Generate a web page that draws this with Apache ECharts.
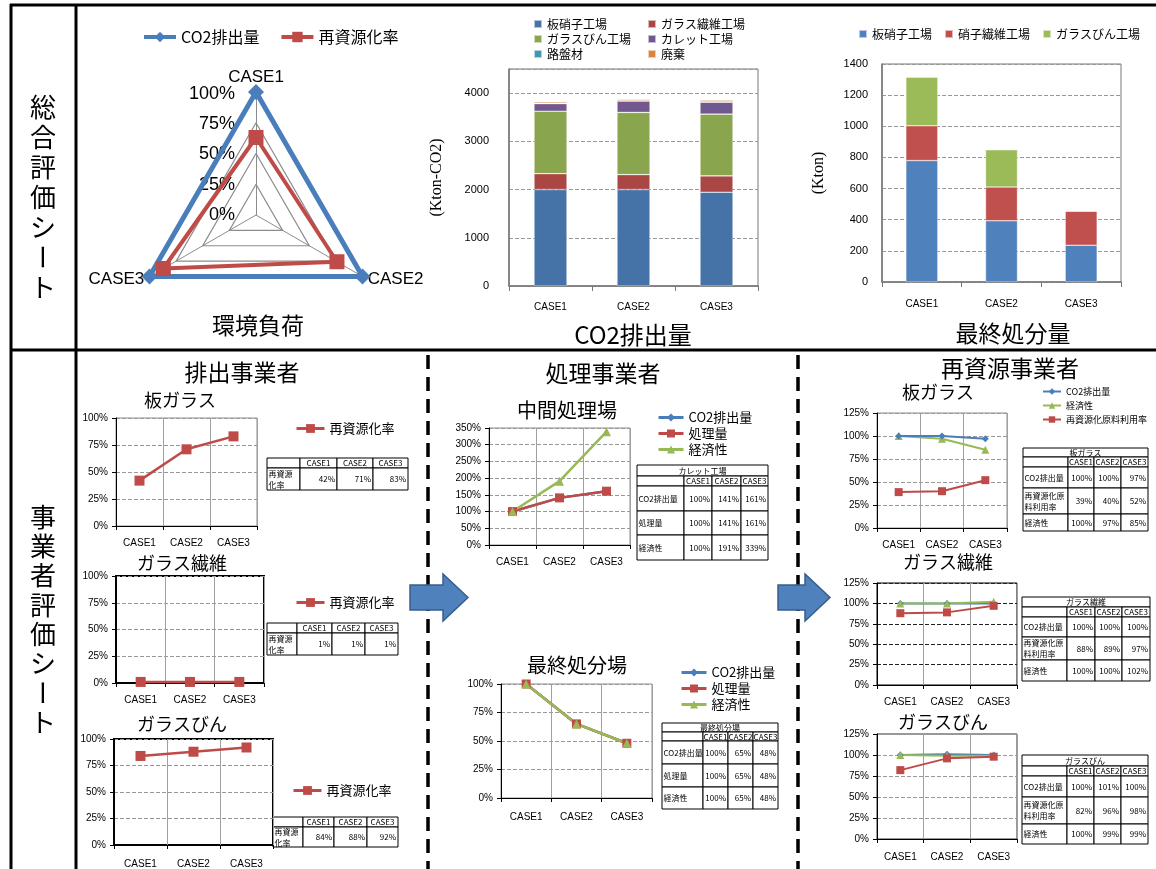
<!DOCTYPE html>
<html>
<head>
<meta charset="utf-8">
<script src="https://cdn.jsdelivr.net/npm/echarts@6/dist/echarts.min.js"></script>
<style>
html,body{margin:0;padding:0;background:#fff}
#main{width:1156px;height:869px}
</style>
</head>
<body>
<div id="main"></div>
<script>
// 共通カテゴリ
const cases = ['CASE1', 'CASE2', 'CASE3'];

// 総合評価：環境負荷（レーダー）
const radarCO2 = [100, 100, 100];
const radarRecycle = [63, 76, 87];

// 総合評価：CO2排出量（Kton-CO2）
const co2Sheet = [2000, 2000, 1945];
const co2Fiber = [330, 310, 339];
const co2Bottle = [1294, 1290, 1280];
const co2Cullet = [159, 235, 249];
const co2Road = [5, 5, 5];
const co2Waste = [30, 28, 35];

// 総合評価：最終処分量（Kton）
const dispSheet = [780, 393, 236];
const dispFiber = [223, 217, 219];
const dispBottle = [312, 239, 0];

// 排出事業者：再資源化率（%）
const emSheet = [42, 71, 83];
const emFiber = [1, 1, 1];
const emBottle = [84, 88, 92];

// 処理事業者（%）
const midCO2 = [100, 141, 161];
const midAmount = [100, 141, 161];
const midEcon = [100, 191, 339];
const finCO2 = [100, 65, 48];
const finAmount = [100, 65, 48];
const finEcon = [100, 65, 48];

// 再資源事業者（%）
const reSheetCO2 = [100, 100, 97];
const reSheetRate = [39, 40, 52];
const reSheetEcon = [100, 97, 85];
const reFiberCO2 = [100, 100, 100];
const reFiberRate = [88, 89, 97];
const reFiberEcon = [100, 100, 102];
const reBottleCO2 = [100, 101, 100];
const reBottleRate = [82, 96, 98];
const reBottleEcon = [100, 99, 99];

const BLUE = '#4A7EBB', RED = '#BE4B48', GREEN = '#98B954';
const FONT = "'Liberation Sans','Noto Sans CJK JP',sans-serif";
const JP = "'Noto Sans CJK JP',sans-serif";

const grids = [], xAxes = [], yAxes = [], series = [], legends = [], graphics = [];

// 折れ線グラフ（％軸）を1つ追加
function addLineChart(c) {
    const gi = grids.length;
    grids.push({ left: c.box[0], top: c.box[1], width: c.box[2] - c.box[0], height: c.box[3] - c.box[1],
        show: true, borderColor: c.border, borderWidth: c.bw });
    xAxes.push({ gridIndex: gi, type: 'category', data: cases, boundaryGap: true,
        axisLine: { lineStyle: { color: '#000' } },
        axisTick: { show: true, length: 4, lineStyle: { color: '#000' } },
        axisLabel: { color: '#000', fontSize: 10, margin: c.xm || 12, fontFamily: FONT },
        splitLine: { show: true, lineStyle: { color: '#a0a0a0' } } });
    yAxes.push({ gridIndex: gi, type: 'value', min: 0, max: c.max, interval: c.step,
        axisLine: { show: true, lineStyle: { color: '#000' } },
        axisTick: { show: true, length: 4, lineStyle: { color: '#000' } },
        axisLabel: { color: '#000', fontSize: 10, margin: 8, formatter: '{value}%', fontFamily: FONT },
        splitLine: { show: true, lineStyle: { color: c.split || '#999', type: 'dashed' } } });
    c.lines.forEach(l => series.push({ type: 'line', name: l[0], data: l[1], xAxisIndex: gi, yAxisIndex: gi,
        symbol: l[3], symbolSize: l[4], itemStyle: { color: l[2] },
        lineStyle: { color: l[2], width: c.lw || 2.5 } }));
}

// 表（グラフィック要素で描く）
function cell(x, y, w, h, text, align, fs, wrapW) {
    graphics.push({ type: 'rect', shape: { x: x, y: y, width: w, height: h },
        style: { fill: '#fff', stroke: '#000', lineWidth: 1 } });
    if (text === '') return;
    const tx = align === 'left' ? x + 1.5 : (align === 'right' ? x + w - 2 : x + w / 2);
    const st = { text: text, fill: '#000', font: fs + 'px ' + JP, align: align, verticalAlign: 'middle', lineHeight: fs + 3 };
    if (align === 'left') { st.width = wrapW || (w + 2); st.overflow = 'break'; }
    graphics.push({ type: 'text', x: tx, y: y + h / 2, style: st });
}
function table(cols, rows, title, body, wrapW) {
    const fs = 8;
    let r = 0;
    if (title) {
        cell(cols[0], rows[0], cols[cols.length - 1] - cols[0], rows[1] - rows[0], title, 'center', fs);
        r = 1;
    }
    for (let c = 0; c < cols.length - 1; c++) {
        cell(cols[c], rows[r], cols[c + 1] - cols[c], rows[r + 1] - rows[r], c === 0 ? '' : cases[c - 1], 'center', fs);
    }
    r++;
    body.forEach((row, k) => {
        for (let c = 0; c < cols.length - 1; c++) {
            const t = c === 0 ? row[0] : row[1][c - 1] + '%';
            cell(cols[c], rows[r + k], cols[c + 1] - cols[c], rows[r + k + 1] - rows[r + k], t, c === 0 ? 'left' : 'right', fs, wrapW);
        }
    });
}
function text(x, y, t, size, rot) {
    graphics.push({ type: 'text', x: x, y: y, rotation: rot || 0,
        style: { text: t, fill: '#000', font: size + 'px ' + JP, align: 'center', verticalAlign: 'middle' } });
}

// ---- 排出事業者 ----
addLineChart({ box: [116, 418, 257, 526], max: 100, step: 25, border: '#8c8c8c', bw: 1,
    lines: [['再資源化率', emSheet, RED, 'rect', 10]] });
addLineChart({ box: [116, 576, 264, 683], max: 100, step: 25, border: '#000', bw: 2,
    lines: [['再資源化率', emFiber, RED, 'rect', 10]] });
addLineChart({ box: [114, 739, 273, 845], max: 100, step: 25, border: '#000', bw: 2, xm: 14,
    lines: [['再資源化率', emBottle, RED, 'rect', 10]] });
// ---- 処理事業者 ----
addLineChart({ box: [489, 428, 630, 545], max: 350, step: 50, border: '#8c8c8c', bw: 1,
    lines: [['CO2排出量', midCO2, BLUE, 'diamond', 7], ['処理量', midAmount, RED, 'rect', 9], ['経済性', midEcon, GREEN, 'triangle', 9]] });
addLineChart({ box: [501, 684, 652, 798], max: 100, step: 25, border: '#8c8c8c', bw: 1, xm: 14,
    lines: [['CO2排出量', finCO2, BLUE, 'diamond', 7], ['処理量', finAmount, RED, 'rect', 9], ['経済性', finEcon, GREEN, 'triangle', 9]] });
// ---- 再資源事業者 ----
addLineChart({ box: [877, 413, 1007, 528], max: 125, step: 25, border: '#8c8c8c', bw: 1, lw: 2,
    lines: [['経済性', reSheetEcon, GREEN, 'triangle', 8], ['CO2排出量', reSheetCO2, BLUE, 'diamond', 7], ['再資源化原料利用率', reSheetRate, RED, 'rect', 8]] });
addLineChart({ box: [877, 583, 1017, 685], max: 125, step: 25, border: '#000', bw: 1, lw: 2, split: '#222',
    lines: [['CO2排出量', reFiberCO2, BLUE, 'diamond', 7], ['経済性', reFiberEcon, GREEN, 'triangle', 8], ['再資源化原料利用率', reFiberRate, RED, 'rect', 8]] });
addLineChart({ box: [877, 734, 1017, 839], max: 125, step: 25, border: '#333', bw: 1, lw: 2, xm: 13,
    lines: [['CO2排出量', reBottleCO2, BLUE, 'diamond', 7], ['経済性', reBottleEcon, GREEN, 'triangle', 8], ['再資源化原料利用率', reBottleRate, RED, 'rect', 8]] });

// ---- 積み上げ棒グラフ ----
function addBarChart(c) {
    const gi = grids.length;
    grids.push({ left: c.box[0], top: c.box[1], width: c.box[2] - c.box[0], height: c.box[3] - c.box[1],
        show: true, borderColor: '#777', borderWidth: 1 });
    xAxes.push({ gridIndex: gi, type: 'category', data: cases,
        axisLine: { lineStyle: { color: '#777', width: 1.5 } },
        axisTick: { show: true, length: 5, lineStyle: { color: '#777' } },
        axisLabel: { color: '#000', fontSize: 10, margin: c.xm, fontFamily: FONT } });
    yAxes.push({ gridIndex: gi, type: 'value', min: 0, max: c.max, interval: c.step,
        name: c.unit, nameLocation: 'middle', nameRotate: 90, nameGap: c.nameGap,
        nameTextStyle: { fontFamily: "'Liberation Serif',serif", fontSize: 16, color: '#000' },
        axisLine: { show: true, lineStyle: { color: '#777', width: 1.5 } },
        axisTick: { show: false },
        axisLabel: { color: '#000', fontSize: 11, margin: c.ym, showMaxLabel: c.showMax, fontFamily: FONT,
            formatter: v => String(v) },
        splitLine: { show: true, lineStyle: { color: '#999', type: 'dashed' } } });
    c.stacks.forEach(s => series.push({ type: 'bar', name: s[0], data: s[1], stack: 'st' + gi,
        xAxisIndex: gi, yAxisIndex: gi, barWidth: c.barWidth,
        itemStyle: { color: s[2], borderColor: 'rgba(255,255,255,0.6)', borderWidth: 0.6 } }));
}
addBarChart({ box: [509, 69, 758, 286], max: 4500, step: 1000, unit: '(Kton-CO2)', nameGap: 64, ym: 20, xm: 16,
    showMax: false, barWidth: 33,
    stacks: [['板硝子工場', co2Sheet, '#4572A7'], ['ガラス繊維工場', co2Fiber, '#AA4643'], ['ガラスびん工場', co2Bottle, '#89A54E'],
        ['カレット工場', co2Cullet, '#71588F'], ['路盤材', co2Road, '#4198AF'], ['廃棄', co2Waste, '#DB843D']] });
addBarChart({ box: [882, 64, 1121, 282], max: 1400, step: 200, unit: '(Kton)', nameGap: 55, ym: 14, xm: 17,
    showMax: true, barWidth: 32,
    stacks: [['板硝子工場', dispSheet, '#4F81BD'], ['硝子繊維工場', dispFiber, '#C0504D'], ['ガラスびん工場', dispBottle, '#9BBB59']] });

// レーダーの目盛ラベル（CASE1軸に沿って）
(function () {
    const gi = grids.length;
    grids.push({ left: 256, top: 94, width: 1, height: 121, show: false });
    xAxes.push({ gridIndex: gi, type: 'value', show: false });
    yAxes.push({ gridIndex: gi, type: 'value', min: 0, max: 100, interval: 25,
        axisLine: { show: false }, axisTick: { show: false }, splitLine: { show: false },
        axisLabel: { color: '#000', fontSize: 18, margin: 21, formatter: '{value}%', fontFamily: FONT } });
})();

// レーダー（Excel と同じ時計回りになるよう並べ替え）
const radarOrder = [0, 2, 1];
series.push({ type: 'radar', radarIndex: 0, data: [
    { name: 'CO2排出量', value: radarOrder.map(i => radarCO2[i]), symbol: 'diamond', symbolSize: 16,
        lineStyle: { width: 5, color: BLUE }, itemStyle: { color: BLUE } },
    { name: '再資源化率', value: radarOrder.map(i => radarRecycle[i]), symbol: 'rect', symbolSize: 15,
        lineStyle: { width: 4, color: RED }, itemStyle: { color: RED } }
] });

// 凡例
const lg = (o) => legends.push(Object.assign({ selectedMode: false, textStyle: { fontFamily: JP, color: '#000' } }, o));
lg({ left: 137, top: 24, itemWidth: 32, itemHeight: 13, itemGap: 20, lineStyle: { width: 4 },
    textStyle: { fontFamily: JP, fontSize: 16, color: '#000' }, data: ['CO2排出量', '再資源化率'] });
lg({ left: 528, top: 13, orient: 'vertical', icon: 'rect', itemWidth: 8, itemHeight: 8, itemGap: 3,
    textStyle: { fontFamily: JP, fontSize: 12, color: '#000' }, data: ['板硝子工場', 'ガラスびん工場', '路盤材'] });
lg({ left: 642, top: 13, orient: 'vertical', icon: 'rect', itemWidth: 8, itemHeight: 8, itemGap: 3,
    textStyle: { fontFamily: JP, fontSize: 12, color: '#000' }, data: ['ガラス繊維工場', 'カレット工場', '廃棄'] });
lg({ left: 853, top: 23, icon: 'rect', itemWidth: 8, itemHeight: 8, itemGap: 12,
    textStyle: { fontFamily: JP, fontSize: 12, color: '#000' },
    data: [{ name: '板硝子工場', itemStyle: { color: '#4F81BD' } }, { name: '硝子繊維工場' }, { name: 'ガラスびん工場', itemStyle: { color: '#9BBB59' } }] });
[[290, 417], [290, 591], [287, 779]].forEach(p => lg({ left: p[0], top: p[1], itemWidth: 28, itemHeight: 11, lineStyle: { width: 3 },
    textStyle: { fontFamily: JP, fontSize: 13, color: '#000' }, data: ['再資源化率'] }));
[[652, 406], [675, 661]].forEach(p => lg({ left: p[0], top: p[1], orient: 'vertical', itemWidth: 25, itemHeight: 10, itemGap: 3,
    lineStyle: { width: 3 }, textStyle: { fontFamily: JP, fontSize: 13, color: '#000' }, data: ['CO2排出量', '処理量', '経済性'] }));
lg({ left: 1037, top: 382, orient: 'vertical', itemWidth: 18, itemHeight: 8, itemGap: 5, lineStyle: { width: 2 },
    textStyle: { fontFamily: JP, fontSize: 9, color: '#000' }, data: ['CO2排出量', '経済性', '再資源化原料利用率'] });

// 表
table([267, 300, 337, 373, 408], [458, 468, 490], null, [['再資源化率', emSheet]], 26);
table([267, 297, 332, 365, 398], [623, 633, 655], null, [['再資源化率', emFiber]], 26);
table([273, 303, 334, 367, 398], [817, 827, 847], null, [['再資源化率', emBottle]], 26);
table([637, 684, 712, 741, 768], [465, 476, 486, 511, 535, 560], 'カレット工場',
    [['CO2排出量', midCO2], ['処理量', midAmount], ['経済性', midEcon]]);
table([662, 703, 728, 753, 778], [723, 732, 741, 764, 787, 809], '最終処分場',
    [['CO2排出量', finCO2], ['処理量', finAmount], ['経済性', finEcon]], 48);
table([1023, 1068, 1094, 1121, 1148], [448, 457, 467, 488, 514, 531], '板ガラス',
    [['CO2排出量', reSheetCO2], ['再資源化原料利用率', reSheetRate], ['経済性', reSheetEcon]]);
table([1022, 1067, 1095, 1122, 1150], [597, 607, 617, 637, 660, 681], 'ガラス繊維',
    [['CO2排出量', reFiberCO2], ['再資源化原料利用率', reFiberRate], ['経済性', reFiberEcon]]);
table([1022, 1067, 1094, 1121, 1148], [755, 766, 776, 797, 824, 844], 'ガラスびん',
    [['CO2排出量', reBottleCO2], ['再資源化原料利用率', reBottleRate], ['経済性', reBottleEcon]]);

// 枠線
const ln = (x1, y1, x2, y2, w, dash) => graphics.push({ type: 'line', shape: { x1, y1, x2, y2 },
    style: { stroke: '#000', lineWidth: w, lineDash: dash || null } });
ln(10, 5, 1156, 5, 3);
ln(11, 4, 11, 869, 3);
ln(76, 4, 76, 869, 3);
ln(10, 350, 1156, 350, 3);
ln(428, 355, 428, 869, 3.5, [14, 8]);
ln(798, 355, 798, 869, 3.5, [14, 8]);

// 矢印
[[410, 443, 468], [778, 805, 830]].forEach(a => graphics.push({ type: 'polygon', z: 10,
    shape: { points: [[a[0], 585], [a[1], 585], [a[1], 574], [a[2], 597.5], [a[1], 621], [a[1], 610], [a[0], 610]] },
    style: { fill: '#4F81BD', stroke: '#385D8A', lineWidth: 1.5 } }));

// 見出し
text(258, 325, '環境負荷', 23);
text(633, 335, 'CO2排出量', 24);
text(1013, 333, '最終処分量', 23);
text(242, 372, '排出事業者', 23);
text(180, 400, '板ガラス', 18);
text(182, 563, 'ガラス繊維', 18);
text(182, 724, 'ガラスびん', 18);
text(603, 373, '処理事業者', 23);
text(567, 410, '中間処理場', 20);
text(577, 665, '最終処分場', 20);
text(1010, 368, '再資源事業者', 23);
text(938, 392, '板ガラス', 18);
text(948, 562, 'ガラス繊維', 18);
text(943, 722, 'ガラスびん', 18);

// 縦書きのシート名
function vertical(str, x, y0, step) {
    Array.from(str).forEach((ch, i) => text(x, y0 + i * step, ch, 26, ch === 'ー' ? Math.PI / 2 : 0));
}
vertical('総合評価シート', 43, 107, 30);
vertical('事業者評価シート', 43, 517, 29.3);

const chart = echarts.init(document.getElementById('main'));
chart.setOption({
    animation: false,
    textStyle: { fontFamily: FONT },
    radar: {
        center: [256, 215], radius: 123, startAngle: 90, splitNumber: 4, shape: 'polygon',
        indicator: radarOrder.map(i => ({ name: cases[i], min: 0, max: 100 })),
        axisName: { color: '#000', fontSize: 17, fontFamily: FONT },
        nameGap: 6,
        axisLine: { lineStyle: { color: '#8c8c8c' } },
        splitLine: { lineStyle: { color: '#8c8c8c', width: 1.2 } },
        splitArea: { show: false }
    },
    grid: grids,
    xAxis: xAxes,
    yAxis: yAxes,
    legend: legends,
    series: series,
    graphic: graphics
});
</script>
</body>
</html>
